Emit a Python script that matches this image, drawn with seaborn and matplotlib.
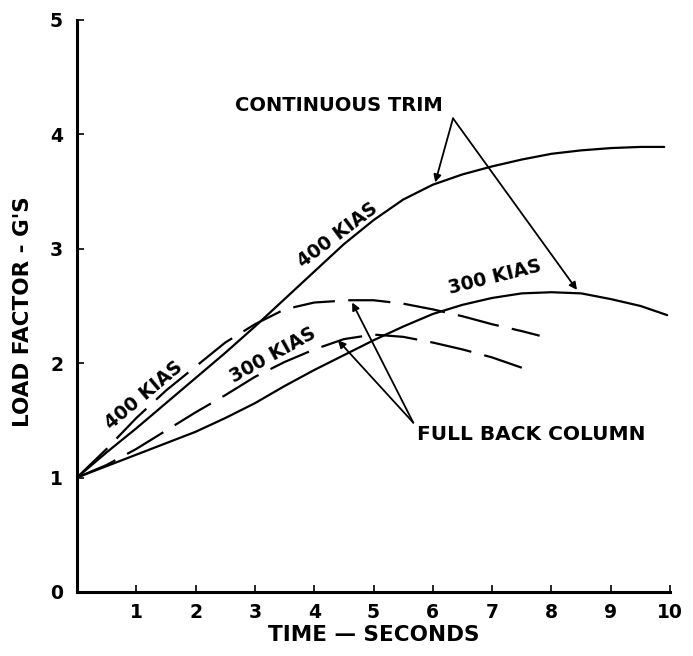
import matplotlib
matplotlib.use("Agg")
import matplotlib.pyplot as plt
import seaborn as sns
import pandas as pd

# ---- data ----
t_ct400 = [0, 0.5, 1, 1.5, 2, 2.5, 3, 3.5, 4, 4.5, 5, 5.5, 6, 6.5, 7, 7.5, 8, 8.5, 9, 9.5, 9.9]
g_ct400 = [1.0, 1.22, 1.43, 1.65, 1.87, 2.09, 2.32, 2.56, 2.80, 3.04, 3.25, 3.43, 3.56, 3.65, 3.72, 3.78, 3.83, 3.86, 3.88, 3.89, 3.89]

t_ct300 = [0, 0.5, 1, 1.5, 2, 2.5, 3, 3.5, 4, 4.5, 5, 5.5, 6, 6.5, 7, 7.5, 8, 8.5, 9, 9.5, 9.95]
g_ct300 = [1.0, 1.1, 1.2, 1.3, 1.4, 1.52, 1.65, 1.8, 1.94, 2.07, 2.2, 2.32, 2.43, 2.51, 2.57, 2.61, 2.62, 2.61, 2.56, 2.5, 2.42]

t_fb400 = [0, 0.5, 1, 1.5, 2, 2.5, 3, 3.5, 4, 4.6, 5, 5.5, 6, 6.5, 7, 7.5, 7.8]
g_fb400 = [1.0, 1.25, 1.52, 1.76, 1.97, 2.18, 2.34, 2.47, 2.53, 2.55, 2.55, 2.52, 2.47, 2.41, 2.34, 2.28, 2.24]

t_fb300 = [0, 0.5, 1, 1.5, 2, 2.5, 3, 3.5, 4, 4.5, 5, 5.5, 6, 6.5, 7, 7.5]
g_fb300 = [1.0, 1.11, 1.25, 1.41, 1.57, 1.72, 1.88, 2.01, 2.12, 2.21, 2.25, 2.23, 2.18, 2.12, 2.05, 1.96]

x_ticks = [1, 2, 3, 4, 5, 6, 7, 8, 9, 10]
y_ticks = [0, 1, 2, 3, 4, 5]
x_label = "TIME — SECONDS"
y_label = "LOAD FACTOR - G'S"

sns.set_theme(style="ticks")
plt.rcParams['font.family'] = ['DejaVu Sans']
plt.rcParams['font.weight'] = 'bold'

fig = plt.figure(figsize=(6.93, 6.56), dpi=100)
ax = fig.add_axes([0.111, 0.0976, 0.856, 0.872])

lw = 1.6
for t, g in [(t_ct400, g_ct400), (t_ct300, g_ct300)]:
    sns.lineplot(x=t, y=g, ax=ax, color="black", lw=lw, sort=False, estimator=None)

for t, g in [(t_fb400, g_fb400), (t_fb300, g_fb300)]:
    sns.lineplot(x=t, y=g, ax=ax, color="black", lw=lw, sort=False, estimator=None)
    ax.lines[-1].set_dashes((19, 6))
    ax.lines[-1].set_dash_capstyle('butt')

ax.set_xlim(0, 10)
ax.set_ylim(0, 5)
ax.set_xticks(x_ticks)
ax.set_xticklabels([str(v) for v in x_ticks])
ax.set_yticks(y_ticks)
ax.set_yticklabels([str(v) for v in y_ticks])
ax.tick_params(axis='both', direction='in', length=5, width=1.2, colors='black',
               labelsize=13.5)
ax.tick_params(axis='x', pad=8)
ax.tick_params(axis='y', pad=10)
for lab in ax.get_xticklabels() + ax.get_yticklabels():
    lab.set_fontweight('bold')

sns.despine(ax=ax)
for s in ['left', 'bottom']:
    ax.spines[s].set_linewidth(2.2)
    ax.spines[s].set_color('black')

ax.set_xlabel(x_label, fontsize=15.5, fontweight='bold', color='black')
ax.set_ylabel(y_label, fontsize=15.5, fontweight='bold', color='black')
ax.xaxis.label.set_va('center')
ax.yaxis.label.set_va('center')
ax.xaxis.set_label_coords(0.50, -0.075)
ax.yaxis.set_label_coords(-0.091, 0.49)

# curve labels
kw = dict(fontsize=13.5, fontweight='bold', color='black', ha='center', va='center',
          rotation_mode='anchor')
ax.text(1.13, 1.72, "400 KIAS", rotation=40, **kw)
ax.text(3.3, 2.07, "300 KIAS", rotation=29, **kw)
ax.text(4.4, 3.12, "400 KIAS", rotation=37, **kw)
ax.text(7.05, 2.75, "300 KIAS", rotation=14, **kw)

# annotations with arrows
ax.text(4.42, 4.25, "CONTINUOUS TRIM", fontsize=14, fontweight='bold',
        color='black', ha='center', va='center')
apex1 = (6.34, 4.14)
for tgt in [(6.04, 3.58), (8.43, 2.64)]:
    ax.annotate("", xy=tgt, xytext=apex1,
                arrowprops=dict(arrowstyle='-|>', color='black', lw=1.3,
                                mutation_scale=11, shrinkA=0, shrinkB=0))

ax.text(5.74, 1.38, "FULL BACK COLUMN", fontsize=14.5, fontweight='bold',
        color='black', ha='left', va='center')
apex2 = (5.67, 1.48)
for tgt in [(4.64, 2.53), (4.40, 2.20)]:
    ax.annotate("", xy=tgt, xytext=apex2,
                arrowprops=dict(arrowstyle='-|>', color='black', lw=1.3,
                                mutation_scale=11, shrinkA=0, shrinkB=0))

fig.savefig("out.png", dpi=100, facecolor='white')
